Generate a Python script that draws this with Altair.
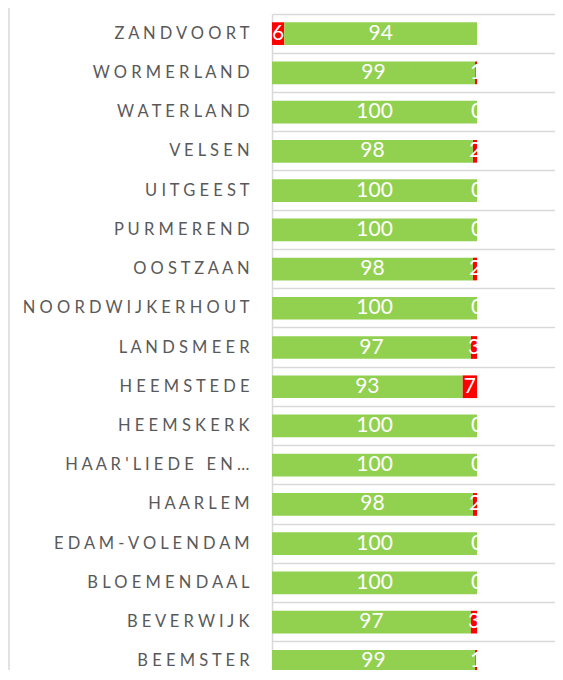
import altair as alt
import pandas as pd

names = ["ZANDVOORT", "WORMERLAND", "WATERLAND", "VELSEN", "UITGEEST", "PURMEREND",
         "OOSTZAAN", "NOORDWIJKERHOUT", "LANDSMEER", "HEEMSTEDE", "HEEMSKERK",
         "HAAR'LIEDE EN…", "HAARLEM", "EDAM-VOLENDAM", "BLOEMENDAAL", "BEVERWIJK", "BEEMSTER"]
first_seg = [6, 99, 100, 98, 100, 100, 98, 100, 97, 93, 100, 100, 98, 100, 100, 97, 99]
second_seg = [94, 1, 0, 2, 0, 0, 2, 0, 3, 7, 0, 0, 2, 0, 0, 3, 1]

rows = []
for n, a, b in zip(names, first_seg, second_seg):
    rows.append({"name": n, "seg": 1, "value": a})
    rows.append({"name": n, "seg": 2, "value": b})
df = pd.DataFrame(rows)

GREEN = "#92D050"
RED = "#FF0000"
GRID = "#D9D9D9"

yenc = alt.Y(
    "name:N",
    sort=names,
    scale=alt.Scale(range=[0, 667], paddingInner=0, paddingOuter=0),
    axis=alt.Axis(
        title=None, ticks=False, grid=True, bandPosition=0,
        gridColor=GRID, gridWidth=1.5, domainColor=GRID, domainWidth=1.5,
        labelFont="Lato", labelFontSize=16.5, labelColor="#595959",
        labelPadding=23, labelLimit=300,
        labelExpr="join(split(datum.label, ''), '\u00a0')",
    ),
)

base = alt.Chart(df).transform_stack(
    stack="value", groupby=["name"], as_=["x0", "x1"], sort=[alt.SortField("seg")]
).transform_calculate(mid="(datum.x0 + datum.x1) / 2")

bars = base.mark_bar(size=22.7).encode(
    y=yenc,
    x=alt.X("x0:Q", scale=alt.Scale(domain=[0, 138], nice=False), axis=None),
    x2="x1:Q",
    color=alt.condition(alt.datum.value >= 50, alt.value(GREEN), alt.value(RED)),
)

labels = base.mark_text(color="white", font="Lato", fontSize=21, baseline="middle").encode(
    y=alt.Y("name:N", sort=names),
    x=alt.X("mid:Q"),
    text=alt.Text("value:Q"),
)

frame = alt.Chart(pd.DataFrame({"a": [0]})).mark_rule(color=GRID, strokeWidth=1.5).encode(
    x=alt.value(-263), y=alt.value(-6), y2=alt.value(680)
)

chart = alt.layer(bars, labels, frame).properties(
    width=283, height=656,
    autosize=alt.AutoSizeParams(type="none"),
    padding={"left": 264, "top": 6, "right": 0, "bottom": 0},
).configure_view(stroke=None)

chart.save("out.html", embed_options={"renderer": "svg", "actions": False})
